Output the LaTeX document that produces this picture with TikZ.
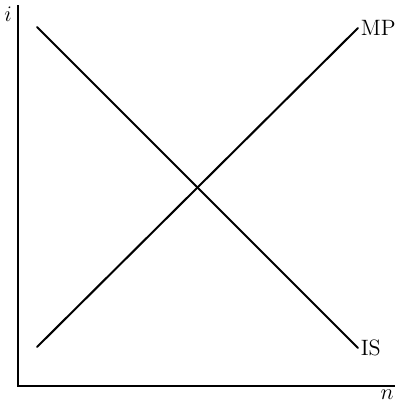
\documentclass[tikz,border=0pt]{standalone}
\usepackage{amsmath}
\usetikzlibrary{positioning}

\begin{document}
\begin{tikzpicture}[x=0.54pt, y=-0.54pt,
    every node/.style={font=\large},
    axis/.style={line width=0.55pt},
    curve/.style={line width=1.1pt, line cap=round}]
    \useasboundingbox (0,0) rectangle (395,402);
    % axes
    \coordinate (orig) at (18,386);
    \coordinate (itop) at (18,5);
    \coordinate (nend) at (395,386);
    \draw[axis] (itop) -- (orig) -- (nend);
    \node (ilab) at (8,14) {$i$};
    \node[inner sep=1pt] (nlab) at (387,395) {$n$};
    % MP and IS curves
    \coordinate (mpA) at (37,347);
    \coordinate (mpB) at (358,28);
    \coordinate (isA) at (37,27);
    \coordinate (isB) at (358,348);
    \draw[curve] (mpA) -- (mpB);
    \draw[curve] (isA) -- (isB);
    \node[right=-2pt of mpB] (mplab) {MP};
    \node[right=-2pt of isB] (islab) {IS};
  \end{tikzpicture}
\end{document}
